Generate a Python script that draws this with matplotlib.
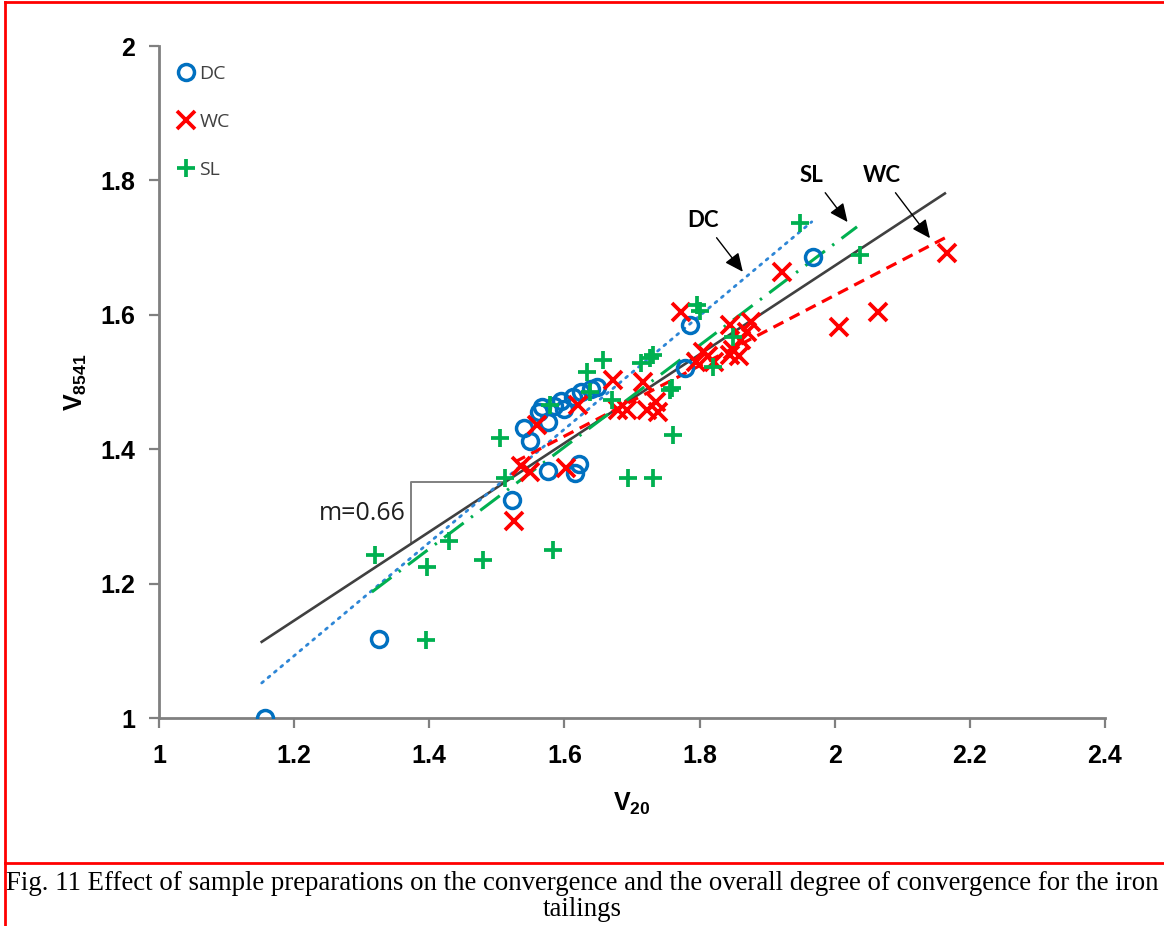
import matplotlib
matplotlib.use("Agg")
import matplotlib.pyplot as plt
from matplotlib.lines import Line2D
import numpy as np

plt.rcParams['mathtext.fontset'] = 'custom'
plt.rcParams['mathtext.rm'] = 'Liberation Sans'
plt.rcParams['mathtext.bf'] = 'Liberation Sans:bold'

# DC samples (V20, V8541)
dc_x = [1.157, 1.325, 1.522, 1.540, 1.549, 1.562, 1.567, 1.575, 1.585, 1.595,
        1.600, 1.612, 1.625, 1.640, 1.648, 1.575, 1.615, 1.622, 1.778, 1.786,
        1.968]
dc_y = [1.000, 1.118, 1.324, 1.432, 1.412, 1.455, 1.463, 1.440, 1.465, 1.472,
        1.460, 1.478, 1.485, 1.490, 1.493, 1.368, 1.365, 1.378, 1.521, 1.585,
        1.686]

# WC samples
wc_x = [1.525, 1.549, 1.603, 1.559, 1.620, 1.672, 1.716, 1.692, 1.722, 1.735,
        1.680, 1.738, 1.772, 1.795, 1.805, 1.812, 1.822, 1.845, 1.850, 1.858,
        1.862, 1.870, 1.876, 1.845, 1.922, 2.007, 2.064, 2.166, 1.535]
wc_y = [1.293, 1.366, 1.372, 1.436, 1.466, 1.503, 1.500, 1.458, 1.458, 1.470,
        1.458, 1.455, 1.604, 1.530, 1.545, 1.538, 1.530, 1.540, 1.548, 1.538,
        1.563, 1.575, 1.590, 1.585, 1.664, 1.582, 1.604, 1.692, 1.375]

# SL samples
sl_x = [1.320, 1.396, 1.429, 1.479, 1.395, 1.505, 1.512, 1.583, 1.694, 1.731,
        1.760, 1.633, 1.657, 1.578, 1.714, 1.731, 1.756, 1.670, 1.638, 1.726,
        1.796, 1.800, 1.820, 1.759, 1.849, 1.948, 2.037]
sl_y = [1.243, 1.225, 1.263, 1.235, 1.116, 1.417, 1.357, 1.250, 1.357, 1.357,
        1.421, 1.515, 1.533, 1.466, 1.528, 1.540, 1.488, 1.473, 1.485, 1.536,
        1.615, 1.605, 1.522, 1.491, 1.567, 1.737, 1.689]

# linear fits: slope, intercept, x range
all_fit = (0.66, 0.353, 1.152, 2.163)
dc_fit = (0.843, 0.081, 1.152, 1.966)
wc_fit = (0.524, 0.581, 1.527, 2.166)
sl_fit = (0.757, 0.192, 1.315, 2.033)

blue = '#0070C0'
red = '#FF0000'
green = '#00B050'

fig = plt.figure(figsize=(11.64, 9.26), dpi=100)
ax = fig.add_axes([159/1164, 1-718/926, (1105-159)/1164, (718-46)/926])

def fit_line(f):
    xs = np.array([f[2], f[3]])
    return xs, f[0]*xs + f[1]

xs, ys = fit_line(all_fit)
ax.plot(xs, ys, color='#404040', lw=1.9, zorder=2)
xs, ys = fit_line(dc_fit)
ax.plot(xs, ys, color='#2E86D6', lw=2.0, linestyle=(0, (0.8, 2.2)),
        dash_capstyle='round', zorder=2)
xs, ys = fit_line(wc_fit)
ax.plot(xs, ys, color=red, lw=2.3, linestyle=(0, (3.5, 2.2)), zorder=2)
xs, ys = fit_line(sl_fit)
ax.plot(xs, ys, color=green, lw=2.2, linestyle=(0, (8, 3, 0.8, 3)), zorder=2)

ax.plot(dc_x, dc_y, linestyle='none', marker='o', ms=11.5, mfc='none',
        mec=blue, mew=2.5, label='DC', zorder=3)
ax.plot(wc_x, wc_y, linestyle='none', marker='x', ms=12.5, mec=red,
        mew=2.7, label='WC', zorder=3)
ax.plot(sl_x, sl_y, linestyle='none', marker='+', ms=13, mec=green,
        mew=2.7, label='SL', zorder=3)

# slope triangle on the overall fit
x0 = 1.373
y0 = all_fit[0]*x0 + all_fit[1]
y1 = 1.351
x1 = (y1 - all_fit[1]) / all_fit[0]
ax.plot([x0, x0, x1], [y0, y1, y1], color='#808080', lw=1.4, zorder=1)
ax.text(x0 - 0.008, 1.305, 'm=0.66', ha='right', va='center',
        fontsize=18, family='Open Sans', color='#202020')

arrow = dict(arrowstyle='-|>,head_length=0.7,head_width=0.32',
             color='black', lw=1.0, shrinkA=4, shrinkB=0)
lab_font = dict(ha='center', va='center', fontsize=16, fontweight='bold',
                family='Lato', arrowprops=arrow)
ax.annotate('DC', xy=(1.864, 1.664), xytext=(1.805, 1.741), **lab_font)
ax.annotate('SL', xy=(2.019, 1.738), xytext=(1.966, 1.808), **lab_font)
ax.annotate('WC', xy=(2.141, 1.714), xytext=(2.070, 1.808), **lab_font)

ax.set_xlim(1, 2.4)
ax.set_ylim(1, 2)
ax.set_xticks([1, 1.2, 1.4, 1.6, 1.8, 2, 2.2, 2.4])
ax.set_xticklabels(['1', '1.2', '1.4', '1.6', '1.8', '2', '2.2', '2.4'])
ax.set_yticks([1, 1.2, 1.4, 1.6, 1.8, 2])
ax.set_yticklabels(['1', '1.2', '1.4', '1.6', '1.8', '2'])
for lab in ax.get_xticklabels() + ax.get_yticklabels():
    lab.set_family('Liberation Sans')
    lab.set_fontweight('bold')
    lab.set_fontsize(18)
ax.tick_params(axis='both', direction='out', length=7, width=1.6,
               color='#808080')
ax.tick_params(axis='y', pad=10)
ax.tick_params(axis='x', pad=12)
for s in ['top', 'right']:
    ax.spines[s].set_visible(False)
for s in ['left', 'bottom']:
    ax.spines[s].set_color('#808080')
    ax.spines[s].set_linewidth(2)

ax.set_xlabel(r'$\mathbf{V_{20}}$', fontsize=18, labelpad=16)
ax.set_ylabel(r'$\mathbf{V_{8541}}$', fontsize=18, labelpad=8)

leg = ax.legend(loc='upper left', bbox_to_anchor=(0.018, 0.972), frameon=False,
                borderpad=0, borderaxespad=0,
                handlelength=1.0, handletextpad=0.2, labelspacing=1.55,
                prop={'family': 'Open Sans', 'size': 14})
for t in leg.get_texts():
    t.set_color('#404040')

# page frame and caption
red_line = dict(color='red', lw=2, transform=fig.transFigure)
fig.add_artist(Line2D([5/1164, 1], [1-2/926, 1-2/926], **red_line))
fig.add_artist(Line2D([5/1164, 5/1164], [1-2/926, 0], **red_line))
fig.add_artist(Line2D([5/1164, 1], [1-863/926, 1-863/926], **red_line))

fig.text(0.5, 1-883/926,
         'Fig. 11 Effect of sample preparations on the convergence and the '
         'overall degree of convergence for the iron',
         ha='center', va='center', family='Liberation Serif', fontsize=19.3)
fig.text(0.5, 1-910/926, 'tailings', ha='center', va='center',
         family='Liberation Serif', fontsize=19.3)

fig.savefig('out.png', dpi=100)
